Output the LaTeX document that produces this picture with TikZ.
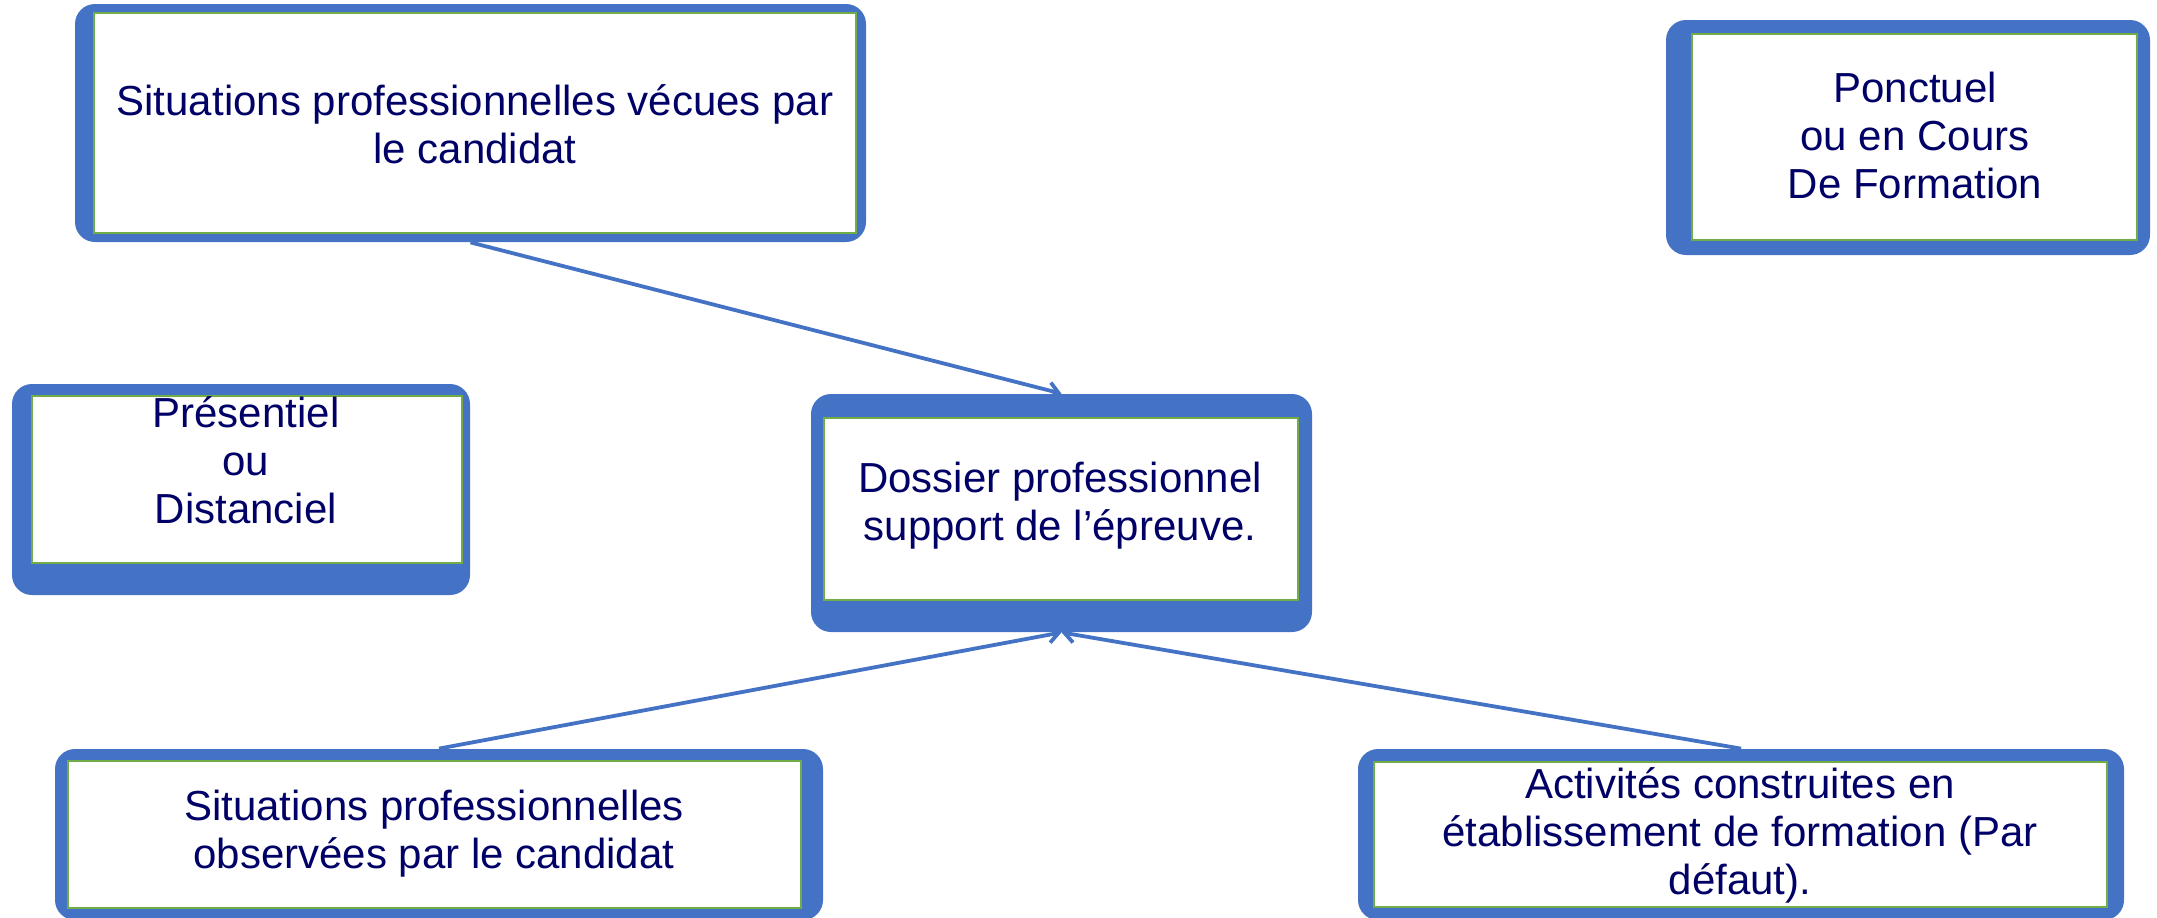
\documentclass[tikz,border=0pt]{standalone}
\usepackage{fontspec}
\setmainfont{Liberation Sans}
\usetikzlibrary{arrows.meta}
\definecolor{frameblue}{HTML}{4472C4}
\definecolor{innergreen}{HTML}{70AD47}
\definecolor{navytext}{RGB}{0,0,102}
\tikzset{
  outerbox/.style={rectangle, rounded corners=10pt, fill=frameblue, draw=none, inner sep=0pt},
  innerbox/.style={rectangle, fill=white, draw=innergreen, line width=1pt, inner sep=0pt},
  txt/.style={align=center, text=navytext, font=\fontsize{21}{24}\selectfont, inner sep=0pt},
  conn/.style={draw=frameblue, line width=1.9pt, -{Straight Barb[length=5pt,width=8pt]}}
}
\begin{document}
\begin{tikzpicture}[x=0.5pt,y=-0.5pt]
\useasboundingbox (0,0) rectangle (2157,917);
\clip (0,0) rectangle (2157,917);
% A
\node[outerbox, minimum width=395.5pt, minimum height=119pt] (Ao) at (470.5,123) {};
\node[innerbox, minimum width=381pt, minimum height=110pt] (Ai) at (475,123) {};
\node[txt] (At) at (475,124) {Situations professionnelles vécues par\\le candidat};
% B
\node[outerbox, minimum width=242pt, minimum height=117.5pt] (Bo) at (1908,137.5) {};
\node[innerbox, minimum width=222.5pt, minimum height=103pt] (Bi) at (1914.5,137) {};
\node[txt] (Bt) at (1915,135) {Ponctuel\\ou en Cours\\De Formation};
% C
\node[outerbox, minimum width=229pt, minimum height=105.5pt] (Co) at (241,489.5) {};
\node[innerbox, minimum width=215pt, minimum height=83.5pt] (Ci) at (247,479.5) {};
\node[txt] (Ct) at (246,460) {Présentiel\\ou\\Distanciel};
% D
\node[outerbox, minimum width=250.5pt, minimum height=119pt] (Do) at (1061.5,513) {};
\node[innerbox, minimum width=237pt, minimum height=91pt] (Di) at (1061,509) {};
\node[txt] (Dt) at (1060,506) {Dossier professionnel\\support de l’épreuve.};
% E
\node[outerbox, minimum width=384pt, minimum height=85.5pt] (Eo) at (439,834.5) {};
\node[innerbox, minimum width=366.5pt, minimum height=73.5pt] (Ei) at (434.5,834.5) {};
\node[txt] (Et) at (434,834) {Situations professionnelles\\observées par le candidat};
% F
\node[outerbox, minimum width=383pt, minimum height=85.5pt] (Fo) at (1741,834.5) {};
\node[innerbox, minimum width=366.5pt, minimum height=72.5pt] (Fi) at (1740.5,834.5) {};
\node[txt] (Ft) at (1740,835) {Activités construites en\\établissement de formation (Par\\défaut).};
% connectors
\draw[conn] (Ao.south) -- (Do.north);
\draw[conn] (Eo.north) -- (Do.south);
\draw[conn] (Fo.north) -- (Do.south);
\end{tikzpicture}
\end{document}
